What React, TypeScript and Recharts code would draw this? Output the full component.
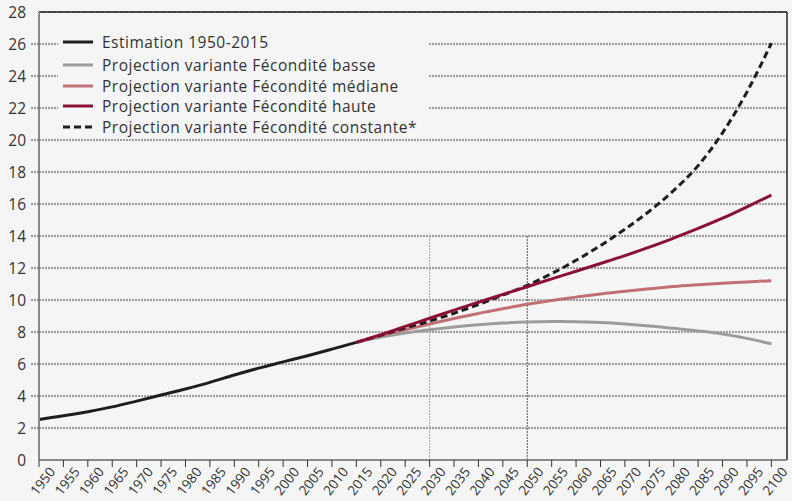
import React from 'react';
import { LineChart, Line, XAxis, YAxis, CartesianGrid, ReferenceLine, Legend } from 'recharts';

const estYears = [1950, 1955, 1960, 1965, 1970, 1975, 1980, 1985, 1990, 1995, 2000, 2005, 2010, 2015];
const estimation = [2.53, 2.76, 3.02, 3.32, 3.68, 4.06, 4.44, 4.85, 5.31, 5.74, 6.13, 6.52, 6.93, 7.35];

const projYears = [2015, 2020, 2025, 2030, 2035, 2040, 2045, 2050, 2055, 2060, 2065, 2070, 2075, 2080, 2085, 2090, 2095, 2100];
const low = [7.35, 7.68, 7.93, 8.14, 8.31, 8.45, 8.56, 8.63, 8.65, 8.64, 8.59, 8.5, 8.38, 8.23, 8.07, 7.88, 7.6, 7.26];
const medium = [7.35, 7.76, 8.14, 8.5, 8.84, 9.16, 9.45, 9.73, 9.97, 10.18, 10.38, 10.55, 10.7, 10.84, 10.95, 11.05, 11.13, 11.21];
const high = [7.35, 7.84, 8.35, 8.86, 9.37, 9.86, 10.35, 10.83, 11.32, 11.8, 12.28, 12.77, 13.3, 13.87, 14.47, 15.11, 15.82, 16.56];
const constant = [7.35, 7.8, 8.25, 8.68, 9.17, 9.72, 10.3, 10.92, 11.65, 12.48, 13.4, 14.42, 15.55, 16.85, 18.4, 20.45, 23.0, 26.05];

const xTicks = [1950, 1955, 1960, 1965, 1970, 1975, 1980, 1985, 1990, 1995, 2000, 2005, 2010, 2015, 2020, 2025, 2030, 2035, 2040, 2045, 2050, 2055, 2060, 2065, 2070, 2075, 2080, 2085, 2090, 2095, 2100];
const yTicks = [0, 2, 4, 6, 8, 10, 12, 14, 16, 18, 20, 22, 24, 26, 28];

const seriesNames = [
  'Estimation 1950-2015',
  'Projection variante Fécondité basse',
  'Projection variante Fécondité médiane',
  'Projection variante Fécondité haute',
  'Projection variante Fécondité constante*',
];
const seriesColors = ['#1e1e1e', '#9c9c9f', '#c27077', '#8a1036', '#1e1e1e'];

const allYears = Array.from(new Set([...estYears, ...projYears])).sort((a, b) => a - b);
const data = allYears.map((yr) => {
  const ei = estYears.indexOf(yr);
  const pi = projYears.indexOf(yr);
  return {
    year: yr,
    est: ei >= 0 ? estimation[ei] : null,
    low: pi >= 0 ? low[pi] : null,
    medium: pi >= 0 ? medium[pi] : null,
    high: pi >= 0 ? high[pi] : null,
    constant: pi >= 0 ? constant[pi] : null,
  };
});

const FONT = '"Open Sans", sans-serif';

const XTick = (props: any) => {
  const { x, payload } = props;
  const ax = x + 17;
  const ay = 472;
  return (
    <text x={ax} y={ay} textAnchor="end" fill="#333" fontSize={13.5} fontFamily={FONT} transform={`rotate(-52, ${ax}, ${ay})`}>
      {payload.value}
    </text>
  );
};

const YTick = (props: any) => {
  const { x, y, payload } = props;
  const v = payload.value;
  return (
    <g>
      {v !== 0 && v !== 28 && (
        <line x1={x + 5} x2={x + 13} y1={y} y2={y} stroke="#444" strokeDasharray="2 1" />
      )}
      <text x={x} y={y} dy="0.36em" textAnchor="end" fill="#333" fontSize={15.5} fontFamily={FONT}>
        {v}
      </text>
    </g>
  );
};

const LegendContent = () => (
  <div style={{ background: '#f5f5f5', padding: '1px 0', fontFamily: FONT, fontSize: 15.5, letterSpacing: 0.5, color: '#333' }}>
    {seriesNames.map((n, i) => (
      <div key={n} style={{ display: 'flex', alignItems: 'center', height: 20.5, marginBottom: i === 0 ? 2.5 : 0 }}>
        <svg width={40} height={6} style={{ marginLeft: 4, flexShrink: 0 }}>
          <line x1={1} x2={31} y1={3} y2={3} stroke={seriesColors[i]} strokeWidth={3} strokeDasharray={i === 4 ? '7 4' : undefined} />
        </svg>
        <span style={{ whiteSpace: 'nowrap' }}>{n}</span>
      </div>
    ))}
  </div>
);

export default function App() {
  return (
    <div style={{ position: 'absolute', left: 0, top: 0, width: 792, height: 501, background: '#f5f5f5' }}>
      <LineChart width={792} height={501} data={data} margin={{ top: 12, right: 5, left: 0, bottom: 0 }}>
        <CartesianGrid horizontal vertical={false} stroke="#444" strokeDasharray="2 1" />
        <XAxis
          dataKey="year"
          type="number"
          domain={[1950, 2103.2]}
          ticks={xTicks}
          interval={0}
          height={41}
          axisLine={{ stroke: '#8a8a8a', strokeWidth: 2 }}
          tickLine={{ stroke: '#333' }}
          tickSize={7}
          tick={<XTick />}
          allowDataOverflow
        />
        <YAxis
          type="number"
          domain={[0, 28]}
          ticks={yTicks}
          interval={0}
          width={39}
          axisLine={{ stroke: '#8a8a8a', strokeWidth: 2 }}
          tickLine={false}
          tickSize={8}
          tickMargin={5}
          tick={<YTick />}
        />
        <ReferenceLine y={28} stroke="#222" strokeWidth={1.5} />
        <ReferenceLine x={2103.2} stroke="#222" strokeWidth={1.5} />
        <ReferenceLine segment={[{ x: 2030, y: 0 }, { x: 2030, y: 14 }]} stroke="#aaa" strokeDasharray="2 1" />
        <ReferenceLine segment={[{ x: 2050, y: 0 }, { x: 2050, y: 14 }]} stroke="#555" strokeDasharray="2 1" />
        <Legend
          layout="vertical"
          align="center"
          verticalAlign="middle"
          wrapperStyle={{ left: 58, top: 31, width: 370 }}
          content={<LegendContent />}
        />
        <Line dataKey="est" type="monotone" stroke={seriesColors[0]} strokeWidth={3} dot={false} isAnimationActive={false} />
        <Line dataKey="low" type="monotone" stroke={seriesColors[1]} strokeWidth={3} dot={false} isAnimationActive={false} />
        <Line dataKey="medium" type="monotone" stroke={seriesColors[2]} strokeWidth={3} dot={false} isAnimationActive={false} />
        <Line dataKey="constant" type="monotone" stroke={seriesColors[4]} strokeWidth={3} strokeDasharray="7 4" dot={false} isAnimationActive={false} />
        <Line dataKey="high" type="monotone" stroke={seriesColors[3]} strokeWidth={3} dot={false} isAnimationActive={false} />
      </LineChart>
    </div>
  );
}
